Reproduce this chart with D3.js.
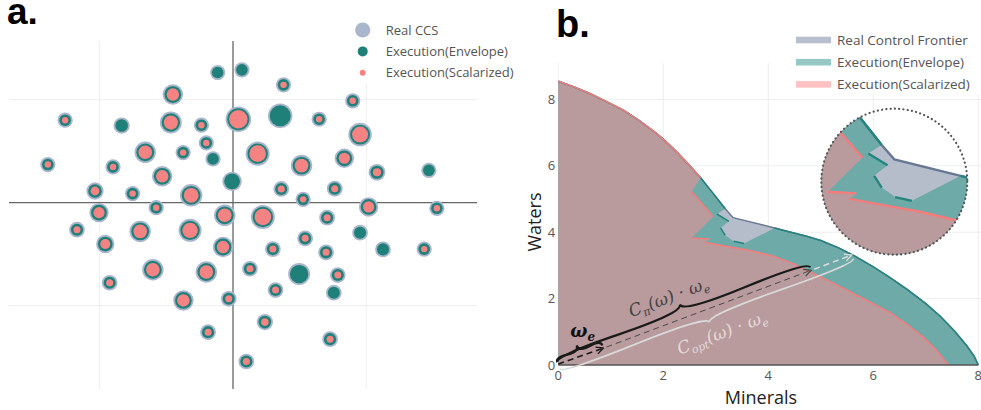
<!DOCTYPE html>
<html>
<head>
<meta charset="utf-8">
<script src="https://cdn.jsdelivr.net/npm/d3@7"></script>
<style>
  body { margin: 0; background: #fff; }
  svg { display: block; font-family: "Open Sans", sans-serif; }
</style>
</head>
<body>
<div id="chart"></div>
<script>
// --------------------------------------
//  Data
// --------------------------------------

// panel a: real CCS points (x, y, size) and whether the scalarized run hit them
const ccsX = [-0.115, 0.067, 0.379, -0.451, 0.898, -1.259, -0.835, -0.466, -0.237, 0.040, 0.354, 0.646, 0.953, -0.200, -0.658, -0.374, -0.150, 0.185, 0.514, 0.835, -1.389, -0.900, -0.531, -0.007, 1.080, 1.469, -1.035, -0.753, -0.314, 0.362, 0.763, 0.526, -1.005, -0.576, -0.062, 0.224, 1.017, 1.529, -1.170, -0.696, -0.322, 0.706, -0.958, -0.075, 0.299, 0.541, 0.698, 0.953, 1.125, 1.434, -0.925, -0.601, -0.200, 0.127, 0.496, 0.786, 0.756, -0.372, -0.032, 0.319, -0.187, 0.239, 0.728, 0.100];
const ccsY = [1.264, 1.290, 1.144, 1.050, 0.989, 0.801, 0.749, 0.778, 0.752, 0.810, 0.843, 0.810, 0.661, 0.580, 0.489, 0.486, 0.425, 0.476, 0.360, 0.431, 0.370, 0.347, 0.256, 0.207, 0.295, 0.314, 0.113, 0.088, 0.071, 0.133, 0.136, 0.032, -0.097, -0.049, -0.123, -0.139, -0.042, -0.055, -0.263, -0.279, -0.269, -0.146, -0.402, -0.431, -0.451, -0.347, -0.483, -0.292, -0.454, -0.451, -0.778, -0.652, -0.674, -0.642, -0.694, -0.703, -0.875, -0.950, -0.934, -0.849, -1.258, -1.160, -1.326, -1.543];
const ccsSize = [1, 1, 1, 2, 1, 1, 1.2, 2.3, 1, 3, 2.8, 1, 2.6, 1, 2.2, 1, 1, 2.7, 2.2, 1.8, 1, 1, 2, 1.8, 1.3, 1, 1.4, 1, 2.4, 1.1, 1.1, 1, 1.8, 1, 2.2, 2.7, 1.8, 1, 1.1, 2.2, 2.5, 1.1, 1.6, 2, 1.1, 1.1, 1.1, 1.1, 1.1, 1, 1.1, 2.2, 2.2, 1.1, 2.3, 1.1, 1.1, 2, 1.1, 1.1, 1.1, 1.2, 1.1, 1.1];
const scalarizedHit = [0, 0, 1, 1, 1, 1, 0, 1, 1, 1, 0, 1, 1, 1, 1, 1, 0, 1, 1, 1, 1, 1, 1, 0, 1, 0, 1, 1, 1, 1, 1, 1, 1, 1, 1, 1, 1, 1, 1, 1, 1, 1, 1, 1, 1, 1, 1, 0, 0, 1, 1, 1, 1, 1, 0, 1, 0, 1, 1, 1, 1, 1, 1, 1];
const legendA = ["Real CCS", "Execution(Envelope)", "Execution(Scalarized)"];

// panel b: frontiers (null = gap in the drawn line)
const realX = [0, 0.3, 0.6, 0.9, 1.24, 1.55, 1.87, 2.05, 2.25, 2.48, 2.71, 2.90, 3.18, 3.33, 4.12, 4.41, 4.73, 5.0, 5.35, 5.65, 6.0, 6.32, 6.65, 7.0, 7.28, 7.55, 7.78, 7.92, 8];
const realY = [8.55, 8.38, 8.18, 7.95, 7.68, 7.36, 6.98, 6.73, 6.43, 6.05, 5.64, 5.27, 4.71, 4.44, 4.13, 4.01, 3.88, 3.75, 3.52, 3.28, 2.96, 2.63, 2.27, 1.85, 1.46, 1.02, 0.58, 0.27, 0];

const envX = [0, 0.3, 0.6, 0.9, 1.24, 1.55, 1.87, 2.05, 2.25, 2.48, 2.71, 2.90, 3.18, null, 3.02, 3.25, null, 3.09, 3.18, null, 3.34, 3.54, null, 4.12, 4.41, 4.73, 5.0, 5.35, 5.65, 6.0, 6.32, 6.65, 7.0, 7.28, 7.55, 7.78, 7.92, 8];
const envY = [8.55, 8.38, 8.18, 7.95, 7.68, 7.36, 6.98, 6.73, 6.43, 6.05, 5.64, 5.27, 4.71, null, 4.55, 4.33, null, 4.13, 3.91, null, 3.73, 3.66, null, 4.13, 4.01, 3.88, 3.75, 3.52, 3.28, 2.96, 2.63, 2.27, 1.85, 1.46, 1.02, 0.58, 0.27, 0];

const scalX = [0, 0.3, 0.6, 0.9, 1.24, 1.55, 1.87, 2.05, 2.25, 2.48, 2.71, null, 2.54, 2.95, null, 2.54, 2.88, null, 2.79, 3.2, 3.65, 4.1, 4.5, 4.85, 5.37, 5.85, 6.32, 6.65, 6.95, 7.2, 7.43];
const scalY = [8.55, 8.38, 8.18, 7.95, 7.68, 7.36, 6.98, 6.73, 6.43, 6.05, 5.64, null, 5.22, 4.47, null, 3.83, 3.80, null, 3.70, 3.58, 3.45, 3.28, 3.04, 2.77, 2.36, 1.97, 1.58, 1.22, 0.84, 0.45, 0];

const legendB = ["Real Control Frontier", "Execution(Envelope)", "Execution(Scalarized)"];
const ticksB = [0, 2, 4, 6, 8];

// preference direction and the two multipliers
const omegaE = [0.86, 0.51];
const cPi = 5.6;
const cOpt = 6.5;

// zoomed inset: data centre and magnification
const zoomCenter = [3.33, 4.02];
const zoomK = 1.6;

// --------------------------------------
//  Canvas
// --------------------------------------

const width = 981;
const height = 410;

const svg = d3.select("#chart")
  .append("svg")
    .attr("width", width)
    .attr("height", height)
    .attr("viewBox", `0, 0, ${width}, ${height}`);

const colGray = "#a9b6cb", colTeal = "#1f7f79", colPink = "#f58383";

// --------------------------------------
//  Panel a
// --------------------------------------

const xA = d3.scaleLinear().domain([-1.68, 1.83]).range([9, 477]);
const yA = d3.scaleLinear().domain([-1.81, 1.57]).range([389, 41]);

const gA = svg.append("g");

[-1, 1].forEach(v => {
  gA.append("line").attr("x1", xA(v)).attr("x2", xA(v)).attr("y1", yA.range()[0]).attr("y2", yA.range()[1])
    .attr("stroke", "#eceef0").attr("stroke-width", 1);
  gA.append("line").attr("y1", yA(v)).attr("y2", yA(v)).attr("x1", xA.range()[0]).attr("x2", xA.range()[1])
    .attr("stroke", "#eceef0").attr("stroke-width", 1);
});
gA.append("line").attr("x1", xA(0)).attr("x2", xA(0)).attr("y1", yA.range()[0]).attr("y2", yA.range()[1])
  .attr("stroke", "#666").attr("stroke-width", 1.3);
gA.append("line").attr("y1", yA(0)).attr("y2", yA(0)).attr("x1", xA.range()[0]).attr("x2", xA.range()[1])
  .attr("stroke", "#666").attr("stroke-width", 1.3);

const rGray = d3.scaleLinear().domain([1, 3]).range([7.6, 12.8]);
const rPink = d3.scaleLinear().domain([1, 3]).range([3.2, 9.2]);

const pts = ccsX.map((x, i) => ({x: x, y: ccsY[i], s: ccsSize[i], hit: scalarizedHit[i]}));

gA.selectAll(".ccs").data(pts).join("circle")
  .attr("class", "ccs")
  .attr("cx", d => xA(d.x)).attr("cy", d => yA(d.y))
  .attr("r", d => rGray(d.s))
  .attr("fill", colGray);

gA.selectAll(".env").data(pts).join("circle")
  .attr("class", "env")
  .attr("cx", d => xA(d.x)).attr("cy", d => yA(d.y))
  .attr("r", d => rGray(d.s) - 1.8)
  .attr("fill", colTeal);

gA.selectAll(".scal").data(pts.filter(d => d.hit)).join("circle")
  .attr("class", "scal")
  .attr("cx", d => xA(d.x)).attr("cy", d => yA(d.y))
  .attr("r", d => rPink(d.s))
  .attr("fill", colPink);

// legend a
gA.append("rect").attr("x", 348).attr("y", 14).attr("width", 140).attr("height", 70).attr("fill", "#fff");
const legA = gA.selectAll(".legA").data(legendA).join("g")
  .attr("class", "legA")
  .attr("transform", (d, i) => `translate(362.7, ${30 + i * 21.4})`);
legA.append("circle")
  .attr("r", (d, i) => [7.6, 5, 3][i])
  .attr("fill", (d, i) => [colGray, colTeal, colPink][i]);
legA.append("text")
  .attr("x", 23).attr("dy", "0.35em")
  .attr("font-size", 13).attr("fill", "#555")
  .text(d => d);

svg.append("text").attr("x", 7).attr("y", 24)
  .attr("font-family", "Liberation Sans, Arial, sans-serif")
  .attr("font-weight", "bold").attr("font-size", 37).attr("fill", "#000")
  .text("a.");

// --------------------------------------
//  Panel b
// --------------------------------------

const xB = d3.scaleLinear().domain([0, 8]).range([558.3, 978.3]);
const yB = d3.scaleLinear().domain([0, 9.1]).range([365, 63]);

const gB = svg.append("g");

ticksB.forEach(v => {
  gB.append("line").attr("x1", xB(v)).attr("x2", xB(v)).attr("y1", yB(0)).attr("y2", yB(9.1))
    .attr("stroke", "#eceef0");
  if (v > 0) gB.append("line").attr("y1", yB(v)).attr("y2", yB(v)).attr("x1", xB(0)).attr("x2", width)
    .attr("stroke", "#eceef0");
});

const toPts = (xs, ys) => xs.map((x, i) => [x, ys[i]]);
const realPts = toPts(realX, realY);
const envPts = toPts(envX, envY);
const scalPts = toPts(scalX, scalY);

function drawFrontiers(g, x, y, sw) {
  const line = d3.line().defined(d => d[0] != null).x(d => x(d[0])).y(d => y(d[1]));
  const area = p => {
    const q = p.filter(d => d[0] != null);
    return d3.line().x(d => x(d[0])).y(d => y(d[1]))(q.concat([[q[q.length - 1][0], 0], [0, 0]])) + "Z";
  };
  g.append("path").attr("d", area(realPts)).attr("fill", "#b5bdca");
  g.append("path").attr("d", area(envPts)).attr("fill", "#6eaaa8");
  g.append("path").attr("d", area(scalPts)).attr("fill", "#b99a9d");
  g.append("path").attr("d", line(realPts)).attr("fill", "none").attr("stroke", "#687893").attr("stroke-width", sw);
  g.append("path").attr("d", line(envPts)).attr("fill", "none").attr("stroke", "#24857f").attr("stroke-width", sw);
  g.append("path").attr("d", line(scalPts)).attr("fill", "none").attr("stroke", "#f57c7c").attr("stroke-width", sw);
}

drawFrontiers(gB, xB, yB, 1.5);

// x axis line
gB.append("line").attr("x1", xB(0)).attr("x2", xB(8)).attr("y1", yB(0)).attr("y2", yB(0))
  .attr("stroke", "#555").attr("stroke-width", 1.5);

// tick labels
gB.selectAll(".xt").data(ticksB).join("text")
  .attr("class", "xt")
  .attr("x", d => xB(d)).attr("y", yB(0) + 15)
  .attr("text-anchor", "middle").attr("font-size", 13).attr("fill", "#555")
  .text(d => d);
gB.selectAll(".yt").data(ticksB).join("text")
  .attr("class", "yt")
  .attr("x", xB(0) - 3).attr("y", d => yB(d)).attr("dy", "0.35em")
  .attr("text-anchor", "end").attr("font-size", 13).attr("fill", "#555")
  .text(d => d);

gB.append("text")
  .attr("transform", "translate(541, 222) rotate(-90)")
  .attr("text-anchor", "middle").attr("font-size", 18).attr("fill", "#222")
  .text("Waters");
gB.append("text")
  .attr("x", 761).attr("y", 404)
  .attr("text-anchor", "middle").attr("font-size", 18).attr("fill", "#222")
  .text("Minerals");

// --------------------------------------
//  Annotations (arrows and braces)
// --------------------------------------

const defs = svg.append("defs");
[["arrDark", "#1a1a1a"], ["arrMid", "#4a4a4a"], ["arrLight", "#dcdcdc"]].forEach(([id, c]) => {
  defs.append("marker")
      .attr("id", id)
      .attr("viewBox", "0 0 10 10")
      .attr("refX", 9).attr("refY", 5)
      .attr("markerWidth", 9).attr("markerHeight", 9)
      .attr("markerUnits", "userSpaceOnUse")
      .attr("orient", "auto")
    .append("path")
      .attr("d", "M1,1L9,5L1,9")
      .attr("fill", "none").attr("stroke", c).attr("stroke-width", 1.5);
});

const pO = [xB(0), yB(0)];
const pE = [xB(omegaE[0]), yB(omegaE[1])];
const pPi = [xB(cPi * omegaE[0]), yB(cPi * omegaE[1])];
const pOpt = [xB(cOpt * omegaE[0]), yB(cOpt * omegaE[1])];
const L = Math.hypot(pPi[0] - pO[0], pPi[1] - pO[1]);
const u = [(pPi[0] - pO[0]) / L, (pPi[1] - pO[1]) / L];
const n = [u[1], -u[0]];
const ang = Math.atan2(u[1], u[0]) * 180 / Math.PI;
const along = (a, b) => [pO[0] + u[0] * a + n[0] * b, pO[1] + u[1] * a + n[1] * b];

function bracePath(p1, p2, w, q) {
  const len = Math.hypot(p1[0] - p2[0], p1[1] - p2[1]);
  const dx = (p1[0] - p2[0]) / len, dy = (p1[1] - p2[1]) / len;
  const qx1 = p1[0] + q * w * dy, qy1 = p1[1] - q * w * dx;
  const qx2 = (p1[0] - .25 * len * dx) + (1 - q) * w * dy, qy2 = (p1[1] - .25 * len * dy) - (1 - q) * w * dx;
  const tx = (p1[0] - .5 * len * dx) + w * dy, ty = (p1[1] - .5 * len * dy) - w * dx;
  const qx3 = p2[0] + q * w * dy, qy3 = p2[1] - q * w * dx;
  const qx4 = (p1[0] - .75 * len * dx) + (1 - q) * w * dy, qy4 = (p1[1] - .75 * len * dy) - (1 - q) * w * dx;
  return `M${p1}Q${qx1},${qy1} ${qx2},${qy2}T${tx},${ty}M${p2}Q${qx3},${qy3} ${qx4},${qy4}T${tx},${ty}`;
}

const gN = svg.append("g").attr("fill", "none");

// dashed arrows
gN.append("line").attr("x1", pO[0]).attr("y1", pO[1] - 1).attr("x2", pE[0]).attr("y2", pE[1])
  .attr("stroke", "#1a1a1a").attr("stroke-width", 1.6).attr("stroke-dasharray", "6,4")
  .attr("marker-end", "url(#arrDark)");
gN.append("line").attr("x1", pE[0] + 3).attr("y1", pE[1] - 1).attr("x2", pPi[0]).attr("y2", pPi[1])
  .attr("stroke", "#4a4a4a").attr("stroke-width", 1).attr("stroke-dasharray", "6,4")
  .attr("marker-end", "url(#arrMid)");
gN.append("line").attr("x1", pPi[0] + 3).attr("y1", pPi[1] - 1).attr("x2", pOpt[0]).attr("y2", pOpt[1])
  .attr("stroke", "#dcdcdc").attr("stroke-width", 1.5).attr("stroke-dasharray", "6,4")
  .attr("marker-end", "url(#arrLight)");

// braces
gN.append("path").attr("d", bracePath(along(0, 3), along(L, 3), -11, 0.6))
  .attr("stroke", "#1a1a1a").attr("stroke-width", 2.2);
const LE = Math.hypot(pE[0] - pO[0], pE[1] - pO[1]);
gN.append("path").attr("d", bracePath(along(0, 3), along(LE, 3), -9, 0.6))
  .attr("stroke", "#1a1a1a").attr("stroke-width", 2.2);
const LO = Math.hypot(pOpt[0] - pO[0], pOpt[1] - pO[1]);
gN.append("path").attr("d", bracePath(along(0, -4), along(LO, -4), 9, 0.6))
  .attr("stroke", "#d9d9d9").attr("stroke-width", 1.8);

// labels
const lbl = svg.append("g").attr("font-family", "DejaVu Serif, serif").attr("font-style", "italic");
const lE = along(35, 24);
const tE = lbl.append("text").attr("x", lE[0]).attr("y", lE[1]).attr("dy", "0.35em")
  .attr("text-anchor", "middle").attr("font-size", 18).attr("font-weight", "bold").attr("fill", "#111");
tE.append("tspan").text("ω");
tE.append("tspan").attr("font-size", 12).attr("dy", 4).text("e");

const lPi = along(L / 2 - 8, 25);
const tPi = lbl.append("text").attr("transform", `translate(${lPi}) rotate(${ang})`).attr("dy", "0.35em")
  .attr("text-anchor", "middle").attr("font-size", 17).attr("fill", "#444");
tPi.append("tspan").text("C");
tPi.append("tspan").attr("font-size", 11).attr("dy", 4).text("π");
tPi.append("tspan").attr("dy", -4).text("(ω) · ω");
tPi.append("tspan").attr("font-size", 11).attr("dy", 4).text("e");

const lOpt = along(LO / 2 + 8, -27);
const tOpt = lbl.append("text").attr("transform", `translate(${lOpt}) rotate(${ang})`).attr("dy", "0.35em")
  .attr("text-anchor", "middle").attr("font-size", 17).attr("fill", "#e2dada");
tOpt.append("tspan").text("C");
tOpt.append("tspan").attr("font-size", 11).attr("dy", 4).text("opt");
tOpt.append("tspan").attr("dy", -4).text("(ω) · ω");
tOpt.append("tspan").attr("font-size", 11).attr("dy", 4).text("e");

// --------------------------------------
//  Legend b and zoomed inset
// --------------------------------------

svg.append("rect").attr("x", 790).attr("y", 20).attr("width", 191).attr("height", 75).attr("fill", "#fff");
const legB = svg.selectAll(".legB").data(legendB).join("g")
  .attr("class", "legB")
  .attr("transform", (d, i) => `translate(796, ${40 + i * 22.2})`);
legB.append("rect")
  .attr("y", -3.3).attr("width", 35).attr("height", 6.6)
  .attr("fill", (d, i) => ["#b9c0cd", "#96c9c6", "#ffc2c2"][i]);
legB.append("text")
  .attr("x", 41).attr("dy", "0.35em")
  .attr("font-size", 13.5).attr("fill", "#555")
  .text(d => d);

const cx = 894.3, cy = 181.7, cr = 73;
defs.append("clipPath").attr("id", "insetClip")
  .append("circle").attr("cx", cx).attr("cy", cy).attr("r", cr);

const kx = (xB(1) - xB(0)) * zoomK, ky = (yB(0) - yB(1)) * zoomK;
const xI = d3.scaleLinear().domain([zoomCenter[0] - 1, zoomCenter[0] + 1]).range([cx - kx, cx + kx]);
const yI = d3.scaleLinear().domain([zoomCenter[1] - 1, zoomCenter[1] + 1]).range([cy + ky, cy - ky]);

const gI = svg.append("g").attr("clip-path", "url(#insetClip)");
drawFrontiers(gI, xI, yI, 2.4);

svg.append("circle").attr("cx", cx).attr("cy", cy).attr("r", cr)
  .attr("fill", "none").attr("stroke", "#555").attr("stroke-width", 2.2)
  .attr("stroke-linecap", "round").attr("stroke-dasharray", "0.1,4.2");

svg.append("text").attr("x", 556).attr("y", 37)
  .attr("font-family", "Liberation Sans, Arial, sans-serif")
  .attr("font-weight", "bold").attr("font-size", 38).attr("fill", "#000")
  .text("b.");
</script>
</body>
</html>
